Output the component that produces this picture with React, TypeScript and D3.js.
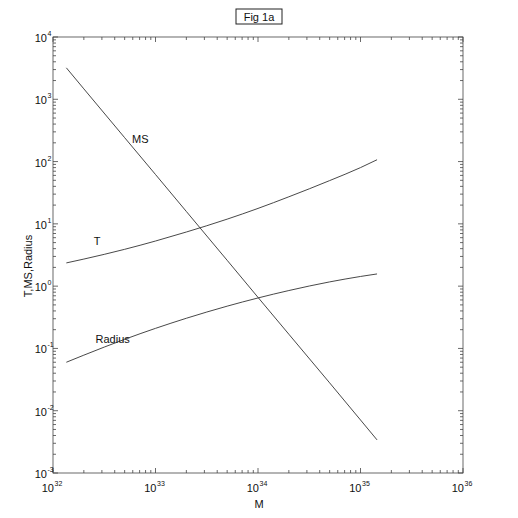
import React from 'react';
import * as d3 from 'd3';

// Stellar mass (g) and the three curves
const masses = [1.35e32, 2e32, 5e32, 1e33, 2e33, 5e33, 1e34, 2e34, 5e34, 1e35, 1.45e35];
const tValues = [2.36, 2.72, 3.9, 5.3, 7.4, 11.9, 17.7, 27.2, 49.5, 80, 107];
const radiusValues = [0.06, 0.078, 0.14, 0.21, 0.305, 0.477, 0.646, 0.85, 1.17, 1.43, 1.57];
const msValues = [3200, 1470, 242, 62, 15.8, 2.6, 0.66, 0.169, 0.028, 0.0071, 0.0034];

const xExponents = [32, 33, 34, 35, 36];
const yExponents = [-3, -2, -1, 0, 1, 2, 3, 4];

const curveLabels = [
    { name: 'MS', x: 5.9e32, y: 200 },
    { name: 'T', x: 2.5e32, y: 4.6 },
    { name: 'Radius', x: 2.6e32, y: 0.12 },
];

const W = 518;
const H = 518;
const margin = { left: 53, right: 55, top: 37, bottom: 45 };
const FONT = '"Liberation Sans", Arial, sans-serif';

const App = () => {
    const x = d3.scaleLog()
        .domain([1e32, 1e36])
        .range([margin.left, W - margin.right]);
    const y = d3.scaleLog()
        .domain([1e-3, 1e4])
        .range([H - margin.bottom, margin.top]);

    const [x0, x1] = x.range();
    const [y0, y1] = y.range();

    const line = d3.line<number>()
        .x((d, i) => x(masses[i]))
        .y(d => y(d))
        .curve(d3.curveMonotoneX);

    const series = [tValues, radiusValues, msValues];

    const xTicks = x.ticks();
    const yTicks = y.ticks();
    const isMajor = (v: number) => Math.abs(Math.log10(v) - Math.round(Math.log10(v))) < 1e-6;

    return (
        <svg width={W} height={H} style={{ position: 'absolute', left: 0, top: 0, background: '#fff' }}
            fontFamily={FONT}>
            {/* title box */}
            <rect x={236} y={9} width={46} height={15} fill="none" stroke="#222" strokeWidth={1} />
            <text x={259} y={21} textAnchor="middle" fontSize={11} fill="#111">Fig 1a</text>

            {/* frame */}
            <rect x={x0} y={y1} width={x1 - x0} height={y0 - y1} fill="none" stroke="#444" strokeWidth={0.8} />

            {/* x ticks, bottom and top */}
            {xTicks.map((t, i) => {
                const len = isMajor(t) ? 5 : 3;
                return (
                    <g key={'xt' + i} stroke="#444" strokeWidth={0.8}>
                        <line x1={x(t)} x2={x(t)} y1={y0} y2={y0 - len} />
                        <line x1={x(t)} x2={x(t)} y1={y1} y2={y1 + len} />
                    </g>
                );
            })}
            {/* y ticks, left and right */}
            {yTicks.map((t, i) => {
                const len = isMajor(t) ? 5 : 3;
                return (
                    <g key={'yt' + i} stroke="#444" strokeWidth={0.8}>
                        <line x1={x0} x2={x0 + len} y1={y(t)} y2={y(t)} />
                        <line x1={x1} x2={x1 - len} y1={y(t)} y2={y(t)} />
                    </g>
                );
            })}

            {/* x tick labels */}
            {xExponents.map(e => (
                <g key={'xl' + e} fill="#111">
                    <text x={x(Math.pow(10, e)) + 1} y={y0 + 19} textAnchor="end" fontSize={11}>10</text>
                    <text x={x(Math.pow(10, e)) + 1.5} y={y0 + 13} fontSize={7}>{e}</text>
                </g>
            ))}
            {/* y tick labels */}
            {yExponents.map(e => (
                <g key={'yl' + e} fill="#111">
                    <text x={x0 - 6} y={y(Math.pow(10, e)) + 5} textAnchor="end" fontSize={11}>10</text>
                    <text x={x0 - 5.5} y={y(Math.pow(10, e)) - 1} fontSize={7}>{e}</text>
                </g>
            ))}

            {/* axis titles */}
            <text x={259} y={508} textAnchor="middle" fontSize={11} fill="#111">M</text>
            <text transform="translate(32,266) rotate(-90)" textAnchor="middle" fontSize={11} fill="#111">T,MS,Radius</text>

            {/* curves */}
            {series.map((s, i) => (
                <path key={'s' + i} d={line(s) || ''} fill="none" stroke="#333" strokeWidth={0.9} />
            ))}

            {curveLabels.map(l => (
                <text key={l.name} x={x(l.x)} y={y(l.y)} fontSize={11} fill="#111">{l.name}</text>
            ))}
        </svg>
    );
};

export default App;
